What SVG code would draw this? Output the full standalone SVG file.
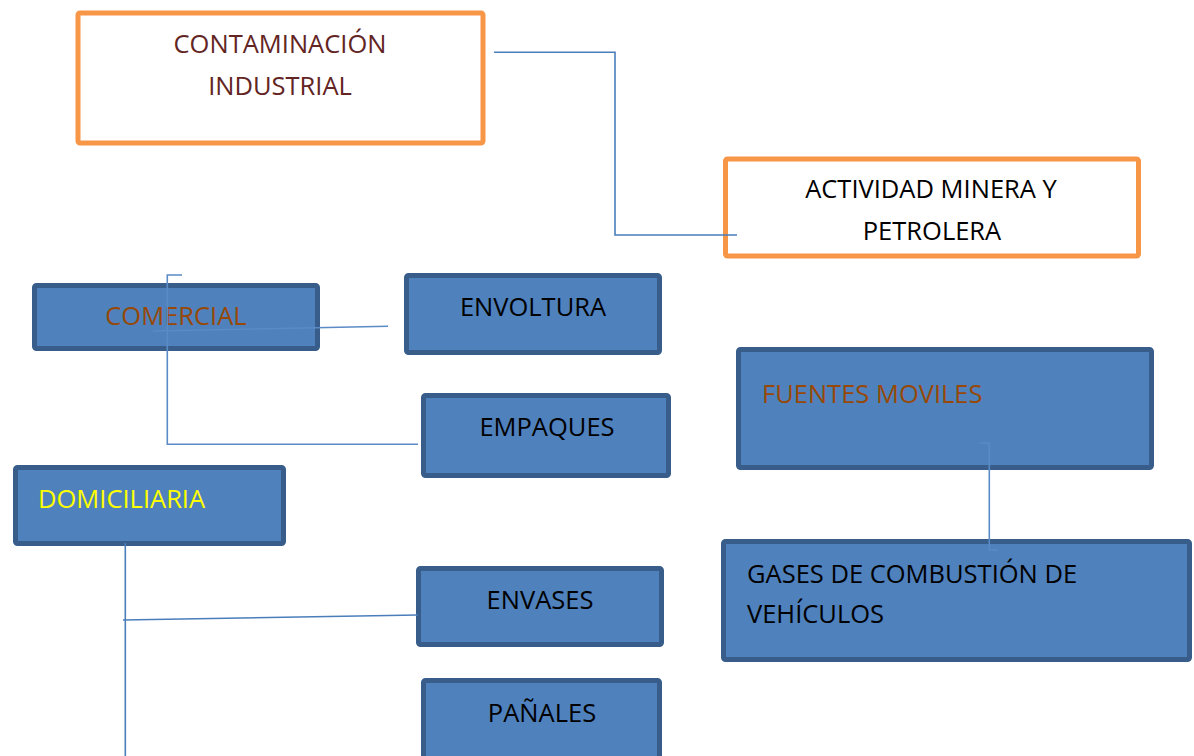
<svg xmlns="http://www.w3.org/2000/svg" width="1194" height="756" viewBox="0 0 1194 756">
<style>
  .orange { fill: #FFFFFF; stroke: #F79646; stroke-width: 5; }
  .blue { fill: #4F81BD; stroke: #385D8A; stroke-width: 5; }
  .conn { fill: none; stroke: #4A7EBB; stroke-width: 1.6; }
  .conn-in { fill: none; stroke: #5A8BC6; stroke-width: 1.6; }
  text { font-family: "Open Sans", "Liberation Sans", sans-serif; font-size: 25.5px; }
  .c { text-anchor: middle; }
  .dark { fill: #000000; }
  .maroon { fill: #632523; }
  .brown { fill: #974806; }
  .yellow { fill: #FFFF00; }
</style>
<rect x="0" y="0" width="1194" height="756" fill="#FFFFFF"/>
<g id="contaminacion-industrial">
  <rect class="orange" x="78" y="13" width="405" height="130" rx="2"/>
  <text class="c maroon" x="280" y="53">CONTAMINACIÓN</text>
  <text class="c maroon" x="280" y="95">INDUSTRIAL</text>
</g>
<g id="actividad-minera">
  <rect class="orange" x="725.5" y="159" width="413" height="97" rx="2"/>
  <text class="c dark" x="931" y="198">ACTIVIDAD MINERA Y</text>
  <text class="c dark" x="932" y="240">PETROLERA</text>
</g>
<g id="comercial">
  <rect class="blue" x="34.5" y="285.5" width="283" height="63" rx="2"/>
  <text class="c brown" x="176" y="325">COMERCIAL</text>
</g>
<g id="envoltura">
  <rect class="blue" x="406.5" y="275.5" width="253" height="77" rx="2"/>
  <text class="c dark" x="533" y="316">ENVOLTURA</text>
</g>
<g id="empaques">
  <rect class="blue" x="423.5" y="395.5" width="245" height="80" rx="2"/>
  <text class="c dark" x="547" y="436">EMPAQUES</text>
</g>
<g id="domiciliaria">
  <rect class="blue" x="15.5" y="467.5" width="268" height="76" rx="2"/>
  <text class="yellow" x="38" y="508">DOMICILIARIA</text>
</g>
<g id="envases">
  <rect class="blue" x="418.5" y="568.5" width="243" height="76" rx="2"/>
  <text class="c dark" x="540" y="609">ENVASES</text>
</g>
<g id="panales">
  <rect class="blue" x="423.5" y="680.5" width="236" height="90" rx="2"/>
  <text class="c dark" x="542" y="722">PAÑALES</text>
</g>
<g id="fuentes-moviles">
  <rect class="blue" x="738.5" y="349.5" width="413" height="118" rx="2"/>
  <text class="brown" x="762" y="403">FUENTES MOVILES</text>
</g>
<g id="gases-combustion">
  <rect class="blue" x="723.5" y="541.5" width="466" height="118" rx="2"/>
  <text class="dark" x="747" y="583">GASES DE COMBUSTIÓN DE</text>
  <text class="dark" x="747" y="623">VEHÍCULOS</text>
</g>
<g id="connectors">
  <polyline class="conn" points="494,52.3 615,52.3 615,235 737,235"/>
  <polyline class="conn-in" points="182,275 167.3,275 167.3,444.3 418,444.3"/>
  <line class="conn-in" x1="153" y1="331" x2="388" y2="326.3"/>
  <line class="conn" x1="125.3" y1="543" x2="125.3" y2="756"/>
  <line class="conn" x1="123" y1="620" x2="418" y2="615"/>
  <polyline class="conn-in" points="980,443 989.3,443 989.3,550 998,550"/>
</g>
</svg>
